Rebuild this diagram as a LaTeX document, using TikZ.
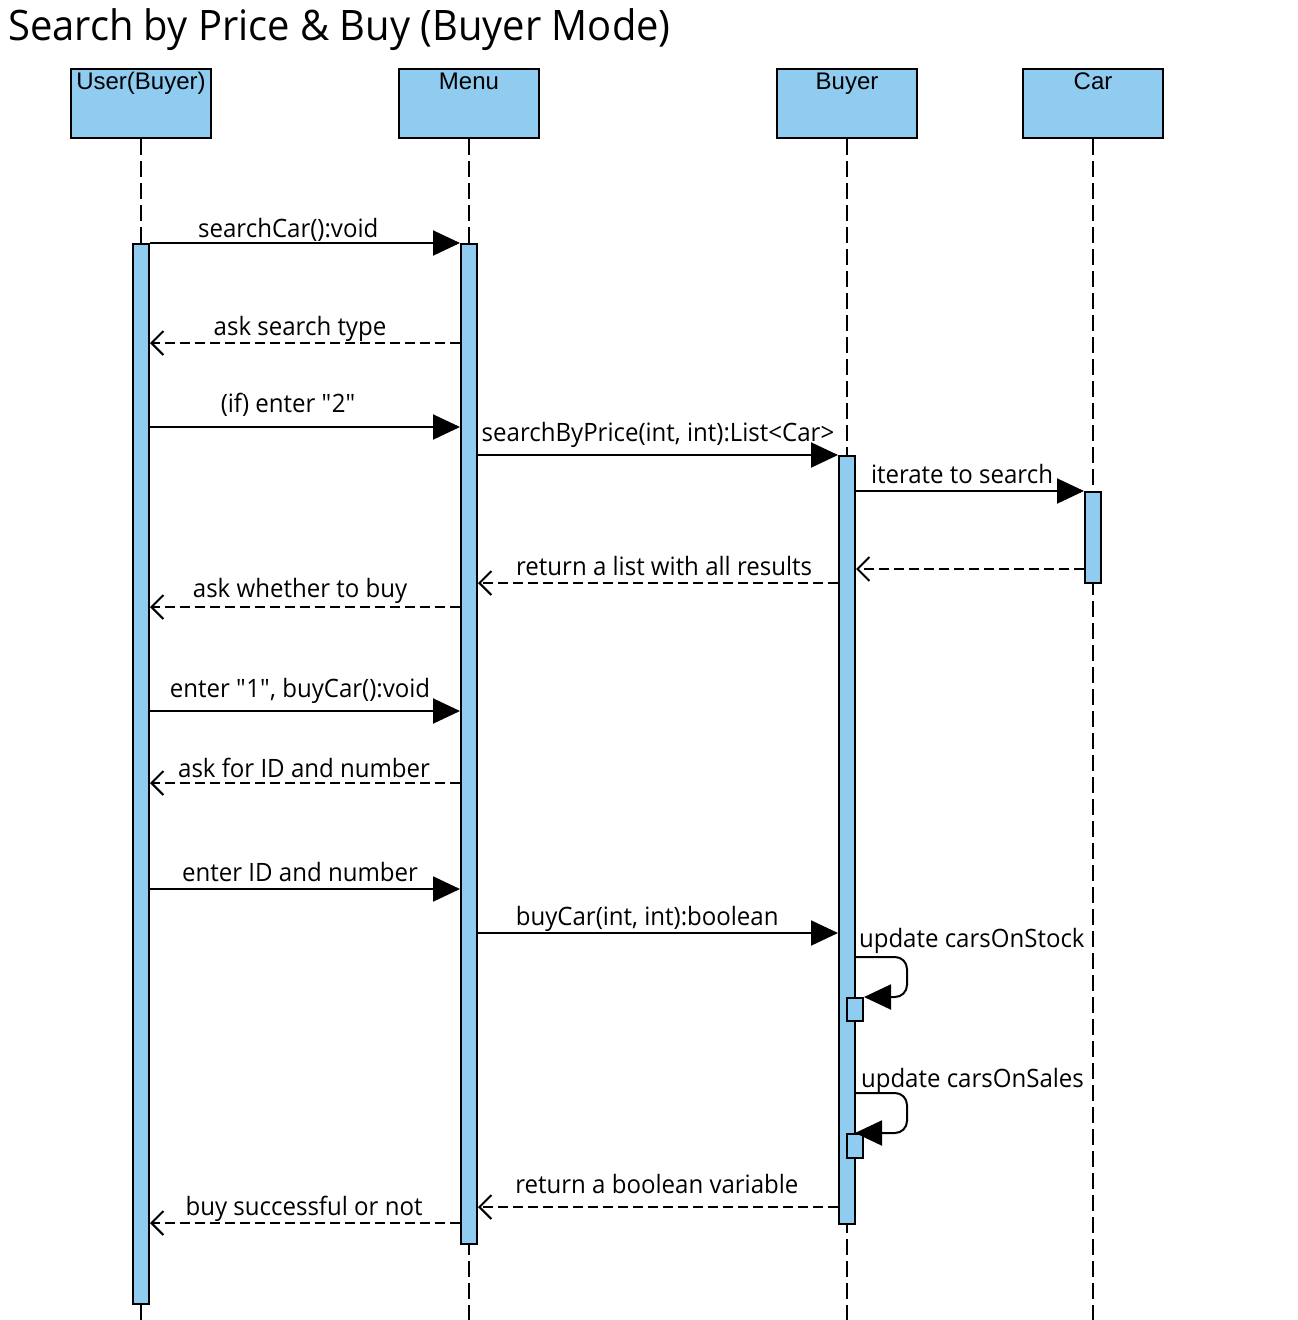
\documentclass[tikz,border=0pt]{standalone}
\usepackage{fontspec}
\setmainfont{Open Sans}[FakeStretch=0.95]
\newfontfamily\headfont{Liberation Sans}
\usetikzlibrary{arrows.meta}
\definecolor{actfill}{RGB}{143,204,240}
\begin{document}
\begin{tikzpicture}[x=1pt,y=-1pt,
  head/.style={draw,line width=2pt,fill=actfill,minimum width=140pt,minimum height=69pt,inner sep=0pt,
    label={[anchor=north,yshift=-1pt,font=\headfont\fontsize{24}{27}\selectfont]north:#1}},
  act/.style={draw,line width=2pt,fill=actfill,inner sep=0pt,minimum width=16pt,anchor=north},
  life/.style={line width=2.4pt,dash pattern=on 16pt off 6pt},
  call/.style={line width=2pt,-{Triangle[length=27pt,width=25pt]}},
  ret/.style={line width=2pt,dash pattern=on 10pt off 5pt,-{Straight Barb[length=12pt,width=24pt,line width=2pt]}},
  lbl/.style={font=\fontsize{25.3}{29}\selectfont,inner sep=0pt,anchor=base}]
\useasboundingbox (0,0) rectangle (1298,1320);
% title
\node[anchor=west,inner sep=0pt,font=\fontsize{42}{48}\selectfont] (title) at (8,30) {Search by Price \& Buy (Buyer Mode)};
% heads
\node[head=User(Buyer)] (hU) at (141,103.5) {};
\node[head=Menu] (hM) at (469,103.5) {};
\node[head=Buyer] (hB) at (847,103.5) {};
\node[head=Car] (hC) at (1093,103.5) {};
% lifeline ends
\coordinate (eU) at (141,1320);
\coordinate (eM) at (469,1320);
\coordinate (eB) at (847,1320);
\coordinate (eC) at (1093,1320);
\draw[life] (hU.south) -- (eU);
\draw[life] (hM.south) -- (eM);
\draw[life] (hB.south) -- (eB);
\draw[life] (hC.south) -- (eC);
% activations
\node[act,minimum height=1060pt] (aU) at (141,243) {};
\node[act,minimum height=1000pt] (aM) at (469,243) {};
\node[act,minimum height=768pt] (aB) at (847,455) {};
\node[act,minimum height=91pt] (aC) at (1093,491) {};
\node[act,minimum height=23pt] (aB1) at (855,997) {};
\node[act,minimum height=24pt] (aB2) at (855,1133) {};
% messages
\draw[call] (aU.east |- 0,243) -- node[lbl,pos=0.446,yshift=6pt]{searchCar():void} (aM.west |- 0,243);
\draw[ret] (aM.west |- 0,343) -- node[lbl,pos=0.516,yshift=8pt]{ask search type} (aU.east |- 0,343);
\draw[call] (aU.east |- 0,427) -- node[lbl,pos=0.446,yshift=15pt]{(if) enter \textquotedbl 2\textquotedbl} (aM.west |- 0,427);
\draw[call] (aM.east |- 0,455) -- node[lbl,pos=0.5,yshift=14pt]{searchByPrice(int, int):List<Car>} (aB.west |- 0,455);
\draw[call] (aB.east |- 0,491) -- node[lbl,pos=0.465,yshift=8pt]{iterate to search} (aC.west |- 0,491);
\draw[ret] (aC.west |- 0,569) -- (aB.east |- 0,569);
\draw[ret] (aB.west |- 0,583) -- node[lbl,pos=0.483,yshift=8pt]{return a list with all results} (aM.east |- 0,583);
\draw[ret] (aM.west |- 0,607) -- node[lbl,pos=0.516,yshift=10pt]{ask whether to buy} (aU.east |- 0,607);
\draw[call] (aU.east |- 0,711) -- node[lbl,pos=0.484,yshift=14pt]{enter \textquotedbl 1\textquotedbl, buyCar():void} (aM.west |- 0,711);
\draw[ret] (aM.west |- 0,783) -- node[lbl,pos=0.503,yshift=6pt]{ask for ID and number} (aU.east |- 0,783);
\draw[call] (aU.east |- 0,889) -- node[lbl,pos=0.484,yshift=8pt]{enter ID and number} (aM.west |- 0,889);
\draw[call] (aM.east |- 0,933) -- node[lbl,pos=0.47,yshift=8pt]{buyCar(int, int):boolean} (aB.west |- 0,933);
\draw[call,rounded corners=12pt] (aB.east |- 0,957) node[lbl,anchor=base west,xshift=2pt,yshift=10pt]{update carsOnStock} -- (907,957) -- (907,997) -- (aB1.north east);
\draw[call,rounded corners=12pt] (aB.east |- 0,1093) node[lbl,anchor=base west,xshift=4pt,yshift=6pt]{update carsOnSales} -- (907,1093) -- (907,1133) -- (aB2.north);
\draw[ret] (aB.west |- 0,1207) -- node[lbl,pos=0.503,yshift=14pt]{return a boolean variable} (aM.east |- 0,1207);
\draw[ret] (aM.west |- 0,1223) -- node[lbl,pos=0.503,yshift=8pt]{buy successful or not} (aU.east |- 0,1223);
\end{tikzpicture}
\end{document}
